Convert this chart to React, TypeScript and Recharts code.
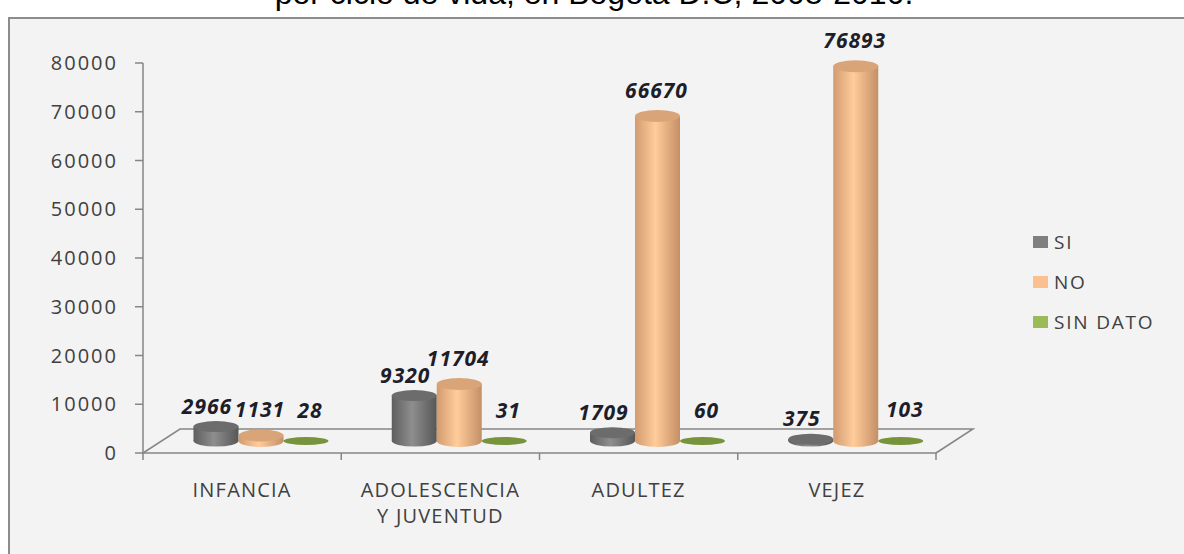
import { Bar, BarChart, LabelList, XAxis, YAxis } from 'recharts'

const categories = ['INFANCIA', 'ADOLESCENCIA\nY JUVENTUD', 'ADULTEZ', 'VEJEZ']
const siValues = [2966, 9320, 1709, 375]
const noValues = [1131, 11704, 66670, 76893]
const sinDatoValues = [28, 31, 60, 103]
const yTicks = [0, 10000, 20000, 30000, 40000, 50000, 60000, 70000, 80000]
const seriesNames = { si: 'SI', no: 'NO', sd: 'SIN DATO' }
const title = 'por ciclo de vida, en Bogotá  D.C, 2008-2010.'

const data = categories.map((name, i) => ({
  name,
  si: siValues[i],
  no: noValues[i],
  sd: sinDatoValues[i],
}))

// layout
const W = 1184
const H = 554
const LEFT = 143
const RIGHT = 936
const TOP = 63
const BASE = 453
const BAND = (RIGHT - LEFT) / categories.length
const DEPTH_X = 37
const DEPTH_Y = -24
// bars sit halfway into the floor
const DX = DEPTH_X / 2
const DY = DEPTH_Y / 2

const AXIS = '#868686'
const TEXT = '#404040'
const FONT = '"Open Sans", sans-serif'

const styles: Record<string, { legend: string; top: string; ry: number; lx: number; ly: number }> = {
  si: { legend: '#7f7f7f', top: '#6c6c6c', ry: 5.5, lx: -9, ly: -21 },
  no: { legend: '#fac090', top: '#d9a478', ry: 6, lx: -1, ly: -26 },
  sd: { legend: '#9bbb59', top: '#77933c', ry: 4, lx: 4, ly: -31 },
}

function Cylinder(props: any) {
  const { x, y, width, height, kind } = props
  const cx = x + width / 2 + DX
  const top = y + DY
  const base = y + height + DY
  const rx = width / 2
  const st = styles[kind]
  if (kind === 'sd') {
    return <ellipse cx={cx} cy={base} rx={rx} ry={st.ry} fill={st.top} />
  }
  return (
    <g>
      <ellipse cx={cx} cy={base} rx={rx} ry={st.ry} fill={`url(#cyl-${kind})`} />
      <rect x={cx - rx} y={top} width={rx * 2} height={Math.max(base - top, 0)} fill={`url(#cyl-${kind})`} />
      <ellipse cx={cx} cy={top} rx={rx} ry={st.ry} fill={st.top} />
    </g>
  )
}

function ValueLabel(props: any) {
  const { x, y, width, value, kind } = props
  const st = styles[kind]
  return (
    <text
      x={x + width / 2 + DX + st.lx}
      y={y + DY + st.ly + 8}
      textAnchor="middle"
      fontFamily={FONT}
      fontSize={21}
      fontWeight={700}
      fontStyle="italic"
      letterSpacing={1}
      fill="#1e1e2a"
    >
      {value}
    </text>
  )
}

function CategoryTick(props: any) {
  const { x, payload, index } = props
  const lines = String(payload.value).split('\n')
  const half = BAND / 2
  return (
    <g>
      <line x1={x - half} x2={x - half} y1={BASE} y2={BASE + 7} stroke={AXIS} strokeWidth={1.5} />
      {index === categories.length - 1 && (
        <line x1={x + half} x2={x + half} y1={BASE} y2={BASE + 7} stroke={AXIS} strokeWidth={1.5} />
      )}
      <text x={x} y={BASE + 44} textAnchor="middle" fontFamily={FONT} fontSize={20} letterSpacing={1.2} fill={TEXT}>
        {lines.map((l, i) => (
          <tspan key={l} x={x} dy={i === 0 ? 0 : 26}>
            {l}
          </tspan>
        ))}
      </text>
    </g>
  )
}

export default function App() {
  return (
    <div style={{ position: 'absolute', left: 0, top: 0, width: W, height: H, overflow: 'hidden', background: '#fff' }}>
      <svg width={W} height={H} style={{ position: 'absolute', left: 0, top: 0 }}>
        <text x={594} y={4} textAnchor="middle" fontFamily='"Liberation Sans", Arial, sans-serif' fontSize={32} fill="#000">
          {title}
        </text>
        <rect x={9} y={18} width={W + 20} height={H} fill="#f3f3f3" stroke="#8c8c8c" strokeWidth={2} />
        {/* 3d floor */}
        <polyline
          points={`${LEFT},${BASE} ${LEFT + DEPTH_X},${BASE + DEPTH_Y} ${RIGHT + DEPTH_X},${BASE + DEPTH_Y} ${RIGHT},${BASE}`}
          fill="none"
          stroke={AXIS}
          strokeWidth={1.5}
        />
      </svg>
      <div style={{ position: 'absolute', left: 0, top: 0 }}>
        <BarChart
          width={W}
          height={H}
          data={data}
          margin={{ top: TOP, right: W - RIGHT, bottom: H - BASE - 60, left: 0 }}
          barCategoryGap={32}
          barGap={0}
        >
          <defs>
            <linearGradient id="cyl-si" x1="0" x2="1" y1="0" y2="0">
              <stop offset="0%" stopColor="#5e5e5e" />
              <stop offset="45%" stopColor="#8e8e8e" />
              <stop offset="100%" stopColor="#575757" />
            </linearGradient>
            <linearGradient id="cyl-no" x1="0" x2="1" y1="0" y2="0">
              <stop offset="0%" stopColor="#d29b70" />
              <stop offset="45%" stopColor="#ffcc9a" />
              <stop offset="100%" stopColor="#c58f66" />
            </linearGradient>
          </defs>
          <XAxis
            dataKey="name"
            height={60}
            interval={0}
            tickLine={false}
            axisLine={{ stroke: AXIS, strokeWidth: 1.5 }}
            tick={<CategoryTick />}
          />
          <YAxis
            width={LEFT}
            domain={[0, 80000]}
            ticks={yTicks}
            interval={0}
            tickSize={8}
            tickMargin={17}
            axisLine={{ stroke: AXIS, strokeWidth: 1.5 }}
            tickLine={{ stroke: AXIS, strokeWidth: 1.5 }}
            tick={{ fill: TEXT, fontSize: 20, fontFamily: FONT, letterSpacing: 2 }}
          />
          {(['si', 'no', 'sd'] as const).map((k) => (
            <Bar
              key={k}
              dataKey={k}
              name={seriesNames[k]}
              isAnimationActive={false}
              shape={(p: any) => <Cylinder {...p} kind={k} />}
            >
              <LabelList dataKey={k} content={(p: any) => <ValueLabel {...p} kind={k} />} />
            </Bar>
          ))}
        </BarChart>
      </div>
      <div style={{ position: 'absolute', left: 1033, top: 229, fontFamily: FONT, fontSize: 19, color: TEXT, letterSpacing: 1.8 }}>
        {(['si', 'no', 'sd'] as const).map((k) => (
          <div key={k} style={{ display: 'flex', alignItems: 'center', height: 26, marginBottom: 14 }}>
            <span style={{ display: 'inline-block', width: 15, height: 12, background: styles[k].legend, marginRight: 6 }} />
            <span>{seriesNames[k]}</span>
          </div>
        ))}
      </div>
    </div>
  )
}
